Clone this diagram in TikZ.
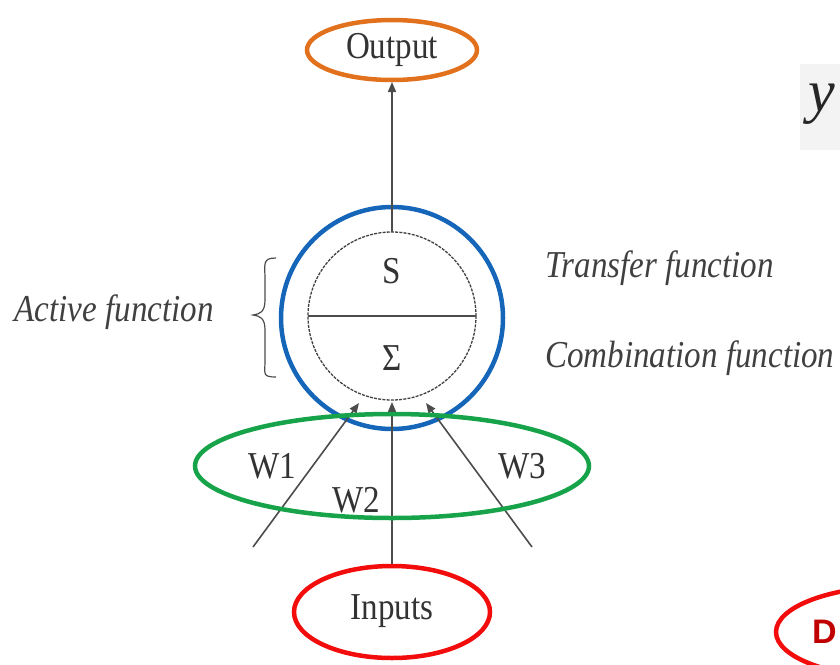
\documentclass[tikz,border=0pt]{standalone}
\usepackage{fontspec}
\setmainfont{Liberation Serif}
\newfontfamily\dfont{Liberation Sans}
\usetikzlibrary{arrows.meta}
\definecolor{outorange}{HTML}{E2711D}
\definecolor{cblue}{HTML}{1565B8}
\definecolor{cgreen}{HTML}{17A34A}
\definecolor{cred}{HTML}{F20C0C}
\definecolor{dred}{HTML}{C00000}
\definecolor{lgray}{HTML}{F3F3F3}
\newcommand{\nx}[1]{\scalebox{0.87}[1]{#1}}
\tikzset{
  lbl/.style={font=\fontsize{38}{42}\selectfont, text=black!80, inner sep=0pt},
  ilbl/.style={font=\fontsize{38}{42}\selectfont\itshape, text=black!75, inner sep=0pt},
  ring/.style={line width=4.5pt},
  wire/.style={line width=1.6pt, draw=black!70},
  arr/.style={wire, -{Triangle[length=10pt,width=8pt]}}
}
\begin{document}
\begin{tikzpicture}[x=1pt,y=-1pt]
\useasboundingbox (0,0) rectangle (840,664);
\clip (0,0) rectangle (840,664);
% partial y at top right
\fill[lgray] (800,64) rectangle (840,150);
\node[anchor=west, inner sep=0pt, font=\fontsize{60}{66}\selectfont\itshape, text=black!85] (yfrag) at (808,104) {y};
% partial red ellipse bottom right
\draw[ring, draw=cred] (900,632) ellipse [x radius=124, y radius=46];
\node[anchor=west, inner sep=0pt, font=\dfont\bfseries\fontsize{34}{38}\selectfont, text=dred] (dfrag) at (812,632) {D};
% output
\node[lbl] (out) at (392,50) {\nx{Output}};
\draw[ring, draw=outorange] (392,50) ellipse [x radius=85, y radius=30];
\coordinate (outb) at (392,82);
% neuron
\coordinate (c) at (392,316);
\draw[line width=1.3pt, draw=black!75, dash pattern=on 3pt off 1.2pt] (c) circle [radius=84];
\draw[line width=1.3pt, draw=black!70] (308,316) -- (476,316);
\coordinate (ctop) at (392,232);
\node[lbl] (S) at (392,271) {\nx{S}};
\node[lbl] (Sig) at (392,358) {\nx{Σ}};
\draw[ring, draw=cblue] (392,318) circle [radius=111];
\draw[arr] (ctop) -- (outb);
% brace
\draw[line width=1.2pt, draw=black!70] (276,258) .. controls (262,258) and (265,264) .. (265,280) -- (265,300) .. controls (265,312) and (260,314) .. (253,315) .. controls (260,316) and (265,318) .. (265,330) -- (265,360) .. controls (265,374) and (262,377) .. (276,377);
\node[ilbl] (act) at (114,312) {\nx{Active function}};
\node[ilbl, anchor=west] (tf) at (545,268) {\nx{Transfer function}};
\node[ilbl, anchor=west] (cf) at (545,358) {\nx{Combination function}};
% inputs
\coordinate (w1s) at (253,547);
\coordinate (w1e) at (359,403);
\coordinate (w3s) at (532,547);
\coordinate (w3e) at (426,403);
\coordinate (w2e) at (392,402);
\coordinate (inb) at (392,566);
\draw[arr] (w1s) -- (w1e);
\draw[arr] (w3s) -- (w3e);
\draw[arr] (inb) -- (w2e);
\node[lbl] (W1) at (272,466) {\nx{W1}};
\node[lbl] (W2) at (356,500) {\nx{W2}};
\node[lbl] (W3) at (522,466) {\nx{W3}};
\draw[ring, draw=cgreen] (392,466) ellipse [x radius=197, y radius=52];
\node[lbl] (inp) at (392,611) {\nx{Inputs}};
\draw[ring, draw=cred] (392,612) ellipse [x radius=98, y radius=46];
\end{tikzpicture}
\end{document}
